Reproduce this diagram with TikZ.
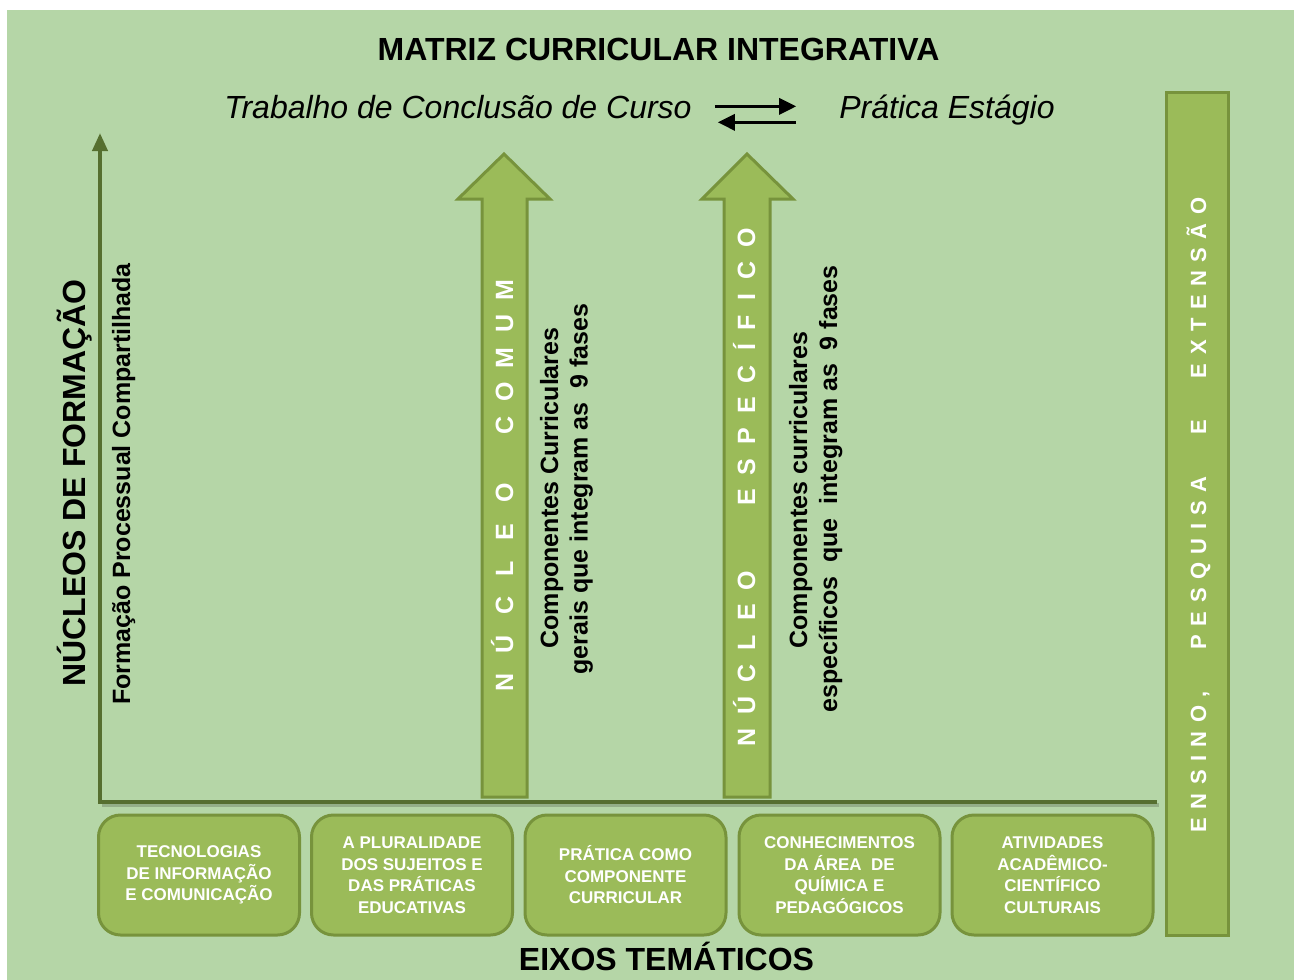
\documentclass[tikz,border=0pt]{standalone}
\usepackage{fontspec}
\setmainfont{Liberation Sans}
\usetikzlibrary{arrows.meta}
\definecolor{bg}{RGB}{181,214,167}
\definecolor{olv}{RGB}{155,187,89}
\definecolor{olvd}{RGB}{119,147,60}
\definecolor{axc}{RGB}{86,111,48}
\makeatletter
\newcommand\spreadword[2]{\def\sw@first{1}\@tfor\sw@c:=#2\do{\ifnum\sw@first=1 \def\sw@first{0}\else\kern#1\fi\sw@c}}
\makeatother
\begin{document}
\begin{tikzpicture}[x=1pt,y=-1pt,
  box/.style={draw=olvd, line width=3pt, fill=olv, rounded corners=22pt,
    minimum width=201pt, minimum height=120pt, text=white, inner sep=0pt,
    font=\fontsize{17}{21.5}\selectfont\bfseries, align=center},
  blockarrow/.style={draw=olvd, line width=3pt, fill=olv, line join=miter},
  axisline/.style={draw=axc, line width=4pt},
  axshadow/.style={draw=black, opacity=0.18, line width=4pt},
  bigbold/.style={font=\fontsize{32}{38}\selectfont\bfseries, inner sep=0pt},
  midbold/.style={font=\fontsize{25}{30}\selectfont\bfseries, inner sep=0pt},
  itext/.style={font=\fontsize{32}{38}\selectfont\itshape, inner sep=0pt},
  wtext/.style={font=\fontsize{25}{30}\selectfont\bfseries, text=white, inner sep=0pt},
  bartext/.style={font=\fontsize{22}{26}\selectfont\bfseries, text=white, inner sep=0pt},
  flow/.style={draw=black, line width=3pt, -{Triangle[length=17pt,width=16pt]}}]
\useasboundingbox (0,0) rectangle (1294,980);
\fill[white] (0,0) rectangle (1294,980);
\fill[bg] (7,10) rectangle (1294,980);

% axes
\coordinate (O) at (100,802);
\coordinate (Ytop) at (100,133);
\coordinate (Xend) at (1157,802);
\draw[axshadow] (102,805) -- (1159,805);
\draw[axisline, -{Triangle[length=18pt,width=15pt]}] (O) -- (Ytop);
\draw[axisline] ([xshift=-2pt]O) -- (Xend);

% block arrows
\draw[blockarrow] (482,797) -- (482,199) -- (458,199) -- (504,154) -- (550,199) -- (527,199) -- (527,797) -- cycle;
\draw[blockarrow] (724,797) -- (724,199) -- (702,199) -- (747,154) -- (793,199) -- (770,199) -- (770,797) -- cycle;

% right bar
\node[draw=olvd, line width=3pt, fill=olv, minimum width=62pt, minimum height=843pt, inner sep=0pt] (bar) at (1197,513.5) {};
\node[bartext, rotate=90, anchor=base] (bartxt) at (1206,515)
  {\spreadword{8.5pt}{ENSINO,}\kern41.7pt\spreadword{8.5pt}{PESQUISA}\kern41.7pt E\kern41.7pt\spreadword{8.5pt}{EXTENSÃO}};

% bottom boxes
\node[box] (b1) at (199,875) {TECNOLOGIAS\\DE INFORMAÇÃO\\E COMUNICAÇÃO};
\node[box] (b2) at (412,875) {A PLURALIDADE\\DOS SUJEITOS E\\DAS PRÁTICAS\\EDUCATIVAS};
\node[box] (b3) at (625.5,875) {PRÁTICA COMO\\COMPONENTE\\CURRICULAR};
\node[box] (b4) at (839.5,875) {CONHECIMENTOS\\DA ÁREA\ \ DE\\QUÍMICA E\\PEDAGÓGICOS};
\node[box] (b5) at (1052.5,875) {ATIVIDADES\\ACADÊMICO-\\CIENTÍFICO\\CULTURAIS};

% titles
\node[bigbold, anchor=base] (title) at (658.5,60) {MATRIZ CURRICULAR INTEGRATIVA};
\node[itext, anchor=base] (tcc) at (458,118) {Trabalho de Conclusão de Curso};
\node[itext, anchor=base] (pe) at (947,118) {Prática Estágio};
\draw[flow, shorten <=23pt, shorten >=43pt] ([yshift=9pt]tcc.mid east) -- ([yshift=9pt]pe.mid west);
\draw[flow, shorten <=43pt, shorten >=26pt] ([yshift=-7pt]pe.mid west) -- ([yshift=-7pt]tcc.mid east);
\node[bigbold, anchor=base] (eixos) at (666.5,970) {EIXOS TEMÁTICOS};

% left labels
\node[bigbold, rotate=90, anchor=base] (nucleos) at (85,483) {NÚCLEOS DE FORMAÇÃO};
\node[midbold, rotate=90, anchor=base] (fpc) at (130,484) {Formação Processual Compartilhada};

% arrow texts
\node[wtext, rotate=90, anchor=base] (nc1) at (513,587.7) {\spreadword{20.6pt}{NÚCLEO}};
\node[wtext, rotate=90, anchor=base] (nc2) at (513,357) {\spreadword{14.3pt}{COMUM}};
\node[wtext, rotate=90, anchor=base] (ne1) at (755,658.5) {\spreadword{14pt}{NÚCLEO}};
\node[wtext, rotate=90, anchor=base] (ne2) at (755,367) {\spreadword{14pt}{ESPECÍFICO}};

% side descriptions
\node[midbold, rotate=90, anchor=base] (cga) at (558,488) {Componentes Curriculares};
\node[midbold, rotate=90, anchor=base] (cgb) at (587.5,489) {gerais que integram as\ \ 9 fases};
\node[midbold, rotate=90, anchor=base] (cea) at (807,490) {Componentes curriculares};
\node[midbold, rotate=90, anchor=base] (ceb) at (837,489) {específicos\ \ que\ \ integram as\ \ 9 fases};
\end{tikzpicture}
\end{document}
